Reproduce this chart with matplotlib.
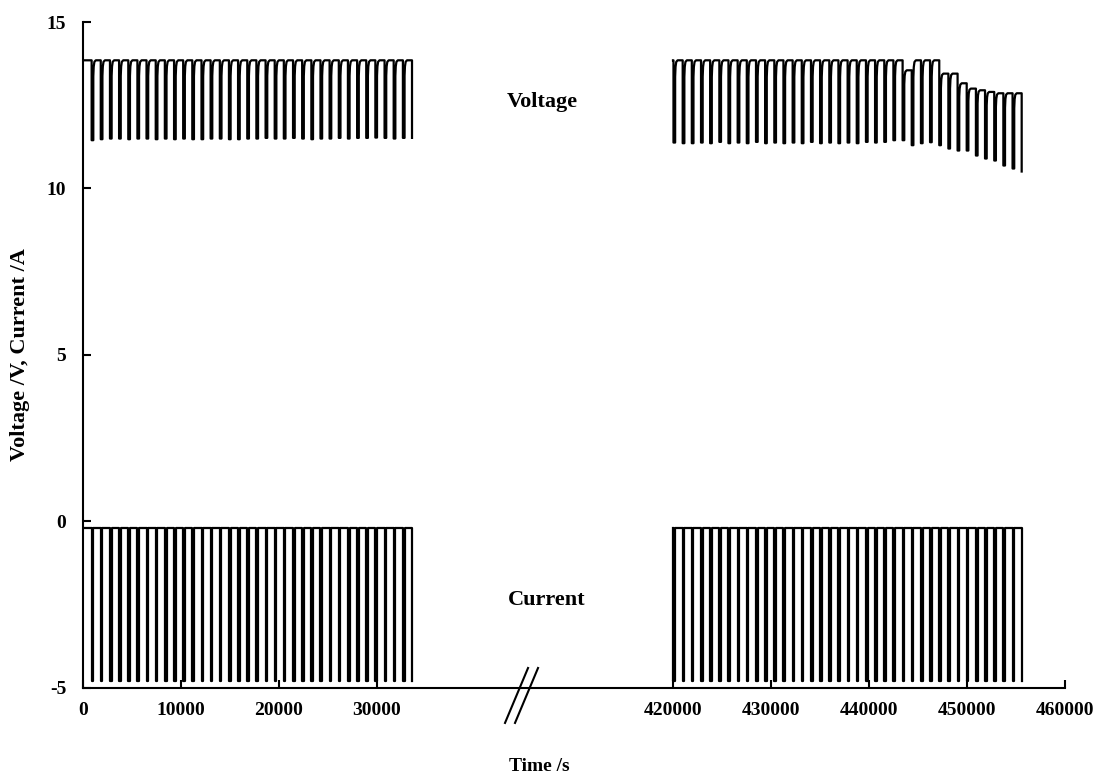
import numpy as np
import matplotlib.pyplot as plt

# ---- values ----
# first block of cycling (time in s)
seg1_start = 0
seg1_pulses = [880, 1810, 2750, 3680, 4620, 5550, 6480, 7420, 8350, 9290,
               10220, 11150, 12090, 13020, 13960, 14890, 15820, 16760, 17690, 18630,
               19560, 20490, 21430, 22360, 23300, 24230, 25160, 26100, 27030, 27970,
               28900, 29830, 30770, 31700, 32640, 33570]
seg1_vtop = [13.85] * 36
seg1_vmin = [11.45, 11.48, 11.5, 11.5, 11.48, 11.5, 11.5, 11.48, 11.5, 11.48,
             11.5, 11.48, 11.48, 11.5, 11.5, 11.48, 11.48, 11.5, 11.5, 11.52,
             11.5, 11.5, 11.52, 11.5, 11.48, 11.5, 11.5, 11.52, 11.5, 11.52,
             11.52, 11.53, 11.52, 11.5, 11.52, 11.52]

# second block of cycling
seg2_start = 420000
seg2_pulses = [420050, 420990, 421920, 422860, 423790, 424730, 425660, 426600, 427530, 428470,
               429400, 430340, 431270, 432210, 433140, 434080, 435010, 435950, 436880, 437820,
               438750, 439690, 440620, 441560, 442490, 443430, 444360, 445300, 446230, 447170,
               448100, 449040, 449970, 450910, 451840, 452780, 453710, 454650, 455580]
seg2_vtop = [13.85] * 26 + [13.55, 13.85, 13.85, 13.85, 13.45, 13.45, 13.16, 13.0,
                            12.95, 12.9, 12.86, 12.86, 12.86]
seg2_vmin = [11.38, 11.36, 11.36, 11.38, 11.36, 11.4, 11.36, 11.38, 11.36, 11.4,
             11.36, 11.38, 11.36, 11.38, 11.36, 11.4, 11.36, 11.38, 11.36, 11.38,
             11.36, 11.4, 11.38, 11.4, 11.45, 11.45, 11.3, 11.36, 11.39, 11.3,
             11.2, 11.14, 11.14, 10.99, 10.9, 10.84, 10.69, 10.6, 10.51]

i_rest = -0.2
i_pulse = -4.8
pulse_dur = 170

# voltage recovery after a pulse: time after pulse end / fraction recovered
recov_dt = [0, 0, 40, 110, 250]
recov_frac = [0.0, 0.8, 0.92, 0.98, 1.0]

# broken time axis
offset = 359800
xticks = [0, 10000, 20000, 30000, 420000, 430000, 440000, 450000, 460000]


def build(start, pulses, vtop, vmin):
    tv, vv = [start], [vtop[0]]
    ti, ii = [start], [i_rest]
    n = len(pulses)
    for k, t0 in enumerate(pulses):
        tv += [t0, t0]
        vv += [vtop[k], vmin[k]]
        ti += [t0, t0]
        ii += [i_rest, i_pulse]
        if k == n - 1:
            break
        te = t0 + pulse_dur
        nxt = vtop[k + 1]
        for dt, fr in zip(recov_dt, recov_frac):
            tv.append(te + dt)
            vv.append(vmin[k] + fr * (nxt - vmin[k]))
        ti += [te, te]
        ii += [i_pulse, i_rest]
    return np.array(tv, float), np.array(vv), np.array(ti, float), np.array(ii)


def to_axis(t):
    t = np.asarray(t, float)
    return np.where(t >= 100000, t - offset, t)


plt.rcParams['font.family'] = ['Liberation Serif', 'DejaVu Serif']
plt.rcParams['font.weight'] = 'bold'
plt.rcParams['axes.unicode_minus'] = False

fig = plt.figure(figsize=(11.01, 7.75), dpi=100)
ax = fig.add_axes([0.0754, 0.1123, 0.8919, 0.8593])

for start, pulses, vtop, vmin in [(seg1_start, seg1_pulses, seg1_vtop, seg1_vmin),
                                  (seg2_start, seg2_pulses, seg2_vtop, seg2_vmin)]:
    tv, vv, ti, ii = build(start, pulses, vtop, vmin)
    ax.plot(to_axis(tv), vv, color='black', lw=1.6)
    ax.plot(to_axis(ti), ii, color='black', lw=1.6)

ax.set_xlim(0, 460000 - offset)
ax.set_ylim(-5, 15)
ax.set_xticks(to_axis(xticks))
ax.set_xticklabels([str(x) for x in xticks])
ax.set_yticks([-5, 0, 5, 10, 15])

ax.spines['top'].set_visible(False)
ax.spines['right'].set_visible(False)
for s in ['left', 'bottom']:
    ax.spines[s].set_linewidth(1.5)
ax.tick_params(axis='both', direction='in', length=6, width=1.5, labelsize=14)
ax.tick_params(axis='x', pad=10)
ax.tick_params(axis='y', pad=12)

ax.set_xlabel('Time /s', fontsize=14, fontweight='bold')
ax.xaxis.set_label_coords(0.465, -0.105)
ax.set_ylabel('Voltage /V, Current /A', fontsize=16, fontweight='bold')
ax.yaxis.set_label_coords(-0.054, 0.5)

ax.text(46900, 12.6, 'Voltage', fontsize=16, fontweight='bold', ha='center', va='center')
ax.text(47300, -2.35, 'Current', fontsize=16, fontweight='bold', ha='center', va='center')

# axis break marks
for x0 in [43060, 44080]:
    ax.plot([x0, x0 + 2350], [-6.05, -4.4], color='black', lw=1.5, clip_on=False)

fig.savefig('out.png', dpi=100)
